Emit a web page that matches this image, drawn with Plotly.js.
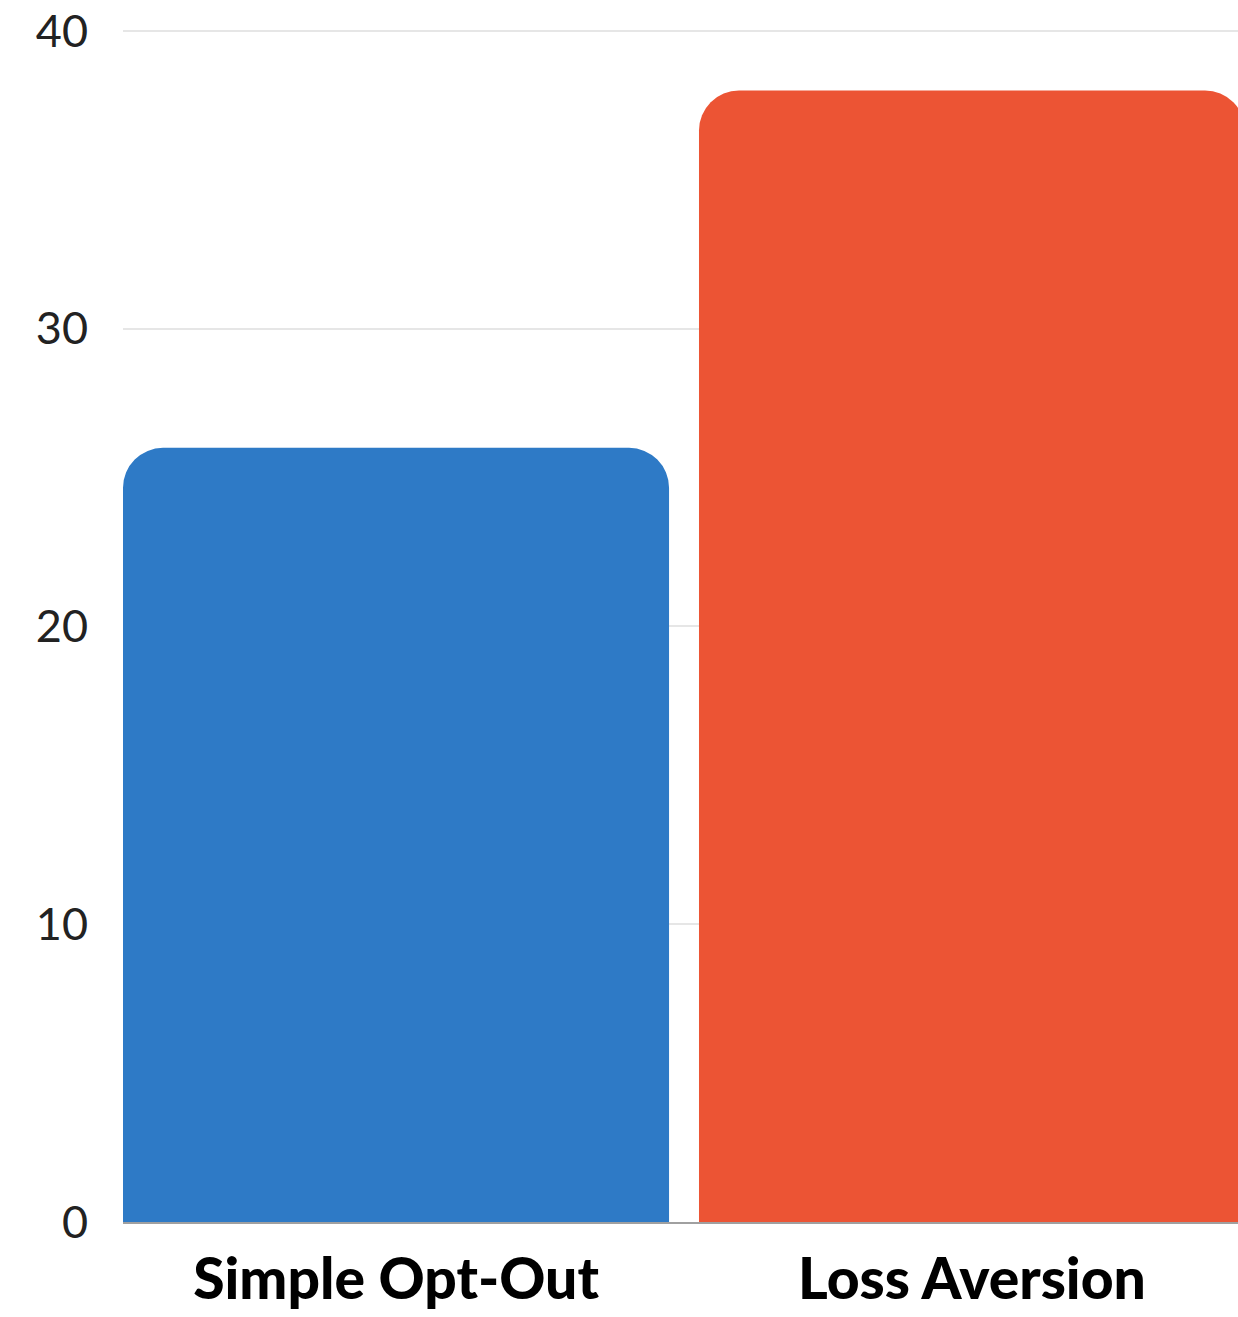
<!DOCTYPE html>
<html>
<head>
<meta charset="utf-8">
<script src="https://cdn.plot.ly/plotly-3.0.1.min.js"></script>
<style>html,body{margin:0;padding:0;background:#fff;}#chart{width:1238px;height:1317px;}</style>
</head>
<body>
<div id="chart"></div>
<script>
const categories = ["Simple Opt-Out", "Loss Aversion"];
const values = [26, 38];
const barColors = ["#2e7ac6", "#ec5434"];
const yTicks = [0, 10, 20, 30, 40];

const trace = {
  type: "bar",
  x: categories,
  y: values,
  marker: { color: barColors, cornerradius: 40, line: { width: 0 } },
  hoverinfo: "none"
};

const layout = {
  width: 1238,
  height: 1317,
  margin: { l: 123, r: 0, t: 28, b: 95 },
  paper_bgcolor: "#ffffff",
  plot_bgcolor: "#ffffff",
  bargap: 0.052,
  showlegend: false,
  xaxis: {
    type: "category",
    range: [-0.474, 1.4618],
    showgrid: false,
    showline: true,
    linecolor: "#a0a0a0",
    linewidth: 2,
    layer: "above traces",
    ticks: "",
    ticklabelstandoff: 7,
    tickfont: { family: "Lato, 'Open Sans', sans-serif", size: 57, color: "#000000", weight: 900 }
  },
  yaxis: {
    range: [0, 40.1],
    tickvals: yTicks,
    ticktext: yTicks.map(String),
    showgrid: true,
    gridcolor: "#e6e6e6",
    gridwidth: 2,
    zeroline: false,
    showline: false,
    ticks: "",
    ticklabelstandoff: 34,
    tickfont: { family: "Lato, 'Open Sans', sans-serif", size: 45, color: "#222222" }
  }
};

Plotly.newPlot("chart", [trace], layout, { staticPlot: true, displayModeBar: false });
</script>
</body>
</html>
